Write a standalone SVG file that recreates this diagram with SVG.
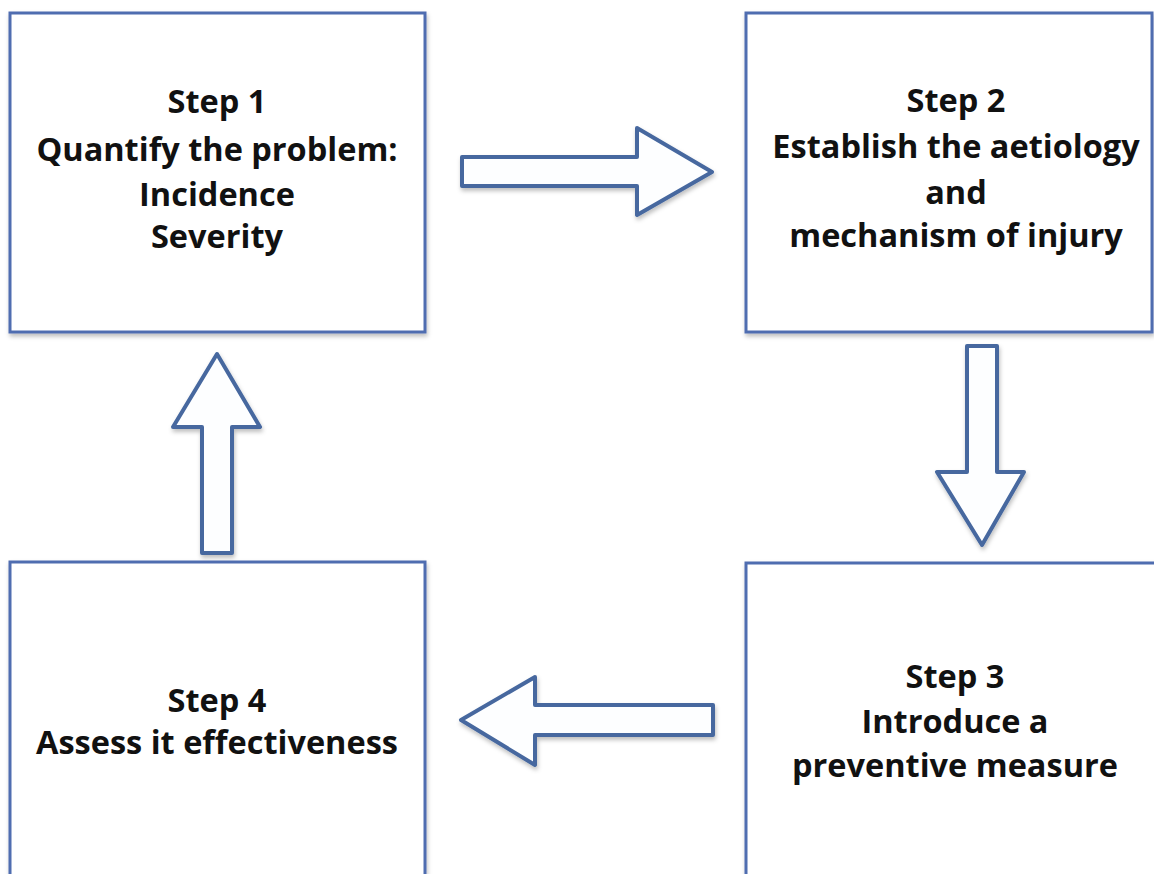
<svg xmlns="http://www.w3.org/2000/svg" width="1154" height="874" viewBox="0 0 1154 874">
<defs>
<filter id="sh" x="-5%" y="-5%" width="115%" height="115%">
<feDropShadow dx="1" dy="3" stdDeviation="2" flood-color="#000" flood-opacity="0.25"/>
</filter>
</defs>
<style>
.box{fill:#ffffff;stroke:#4f6db0;stroke-width:3;filter:url(#sh)}
.arr{fill:#fdfeff;stroke:#46689f;stroke-width:4;stroke-linejoin:round;filter:url(#sh)}
.t{font-family:"Open Sans","Liberation Sans",sans-serif;font-weight:bold;font-size:32.5px;fill:#111;text-anchor:middle}
</style>
<rect width="1154" height="874" fill="#ffffff"/>
<g id="connectors">
<polygon class="arr" points="462,157 637,157 637,128 712,172 637,215 637,186 462,186"/>
<polygon class="arr" points="967,346 997,346 997,472 1024,472 982,545 937,472 967,472"/>
<polygon class="arr" points="713,705 535,705 535,677 461,720 535,765 535,735 713,735"/>
<polygon class="arr" points="202,553 202,427 173,427 217,354 260,427 232,427 232,553"/>
</g>
<g id="step1">
<rect class="box" x="10" y="13" width="415" height="319"/>
<text class="t" x="217" y="113">Step 1</text>
<text class="t" x="217" y="161">Quantify the problem:</text>
<text class="t" x="217" y="206">Incidence</text>
<text class="t" x="217" y="248">Severity</text>
</g>
<g id="step2">
<rect class="box" x="746" y="13" width="406" height="319"/>
<text class="t" x="956" y="112">Step 2</text>
<text class="t" x="956" y="158">Establish the aetiology</text>
<text class="t" x="956" y="204">and</text>
<text class="t" x="956" y="247">mechanism of injury</text>
</g>
<g id="step3">
<rect class="box" x="746" y="563" width="420" height="330"/>
<text class="t" x="955" y="688">Step 3</text>
<text class="t" x="955" y="733">Introduce a</text>
<text class="t" x="955" y="777">preventive measure</text>
</g>
<g id="step4">
<rect class="box" x="10" y="562" width="415" height="330"/>
<text class="t" x="217" y="712">Step 4</text>
<text class="t" x="217" y="754">Assess it effectiveness</text>
</g>
</svg>
